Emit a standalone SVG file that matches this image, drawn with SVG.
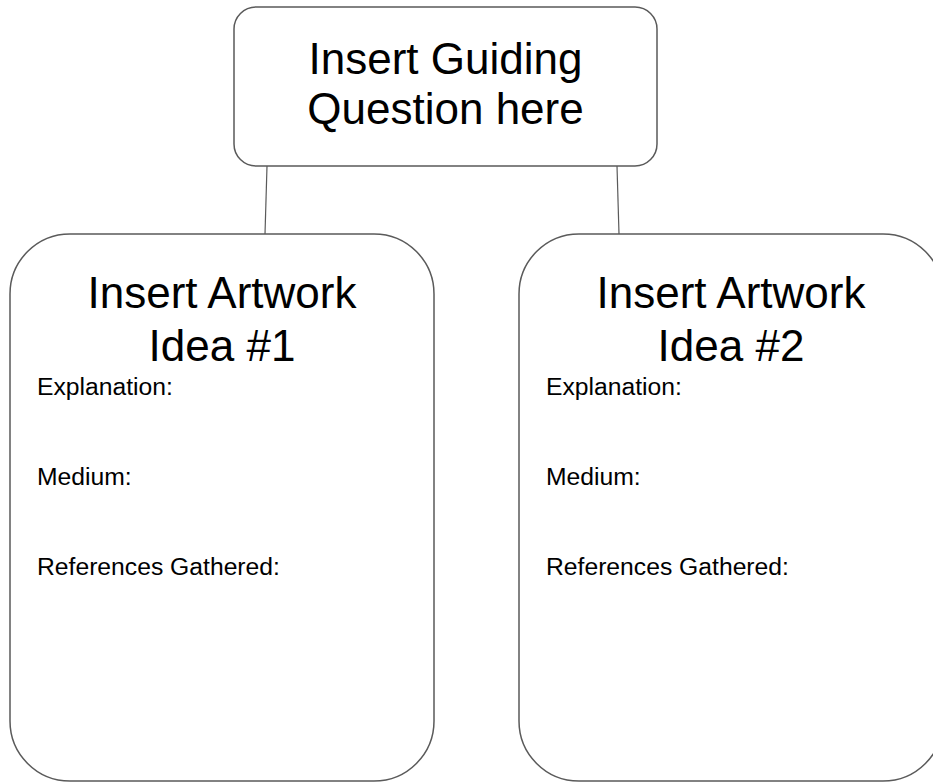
<svg xmlns="http://www.w3.org/2000/svg" width="933" height="784" viewBox="0 0 933 784">
<style>
.box{fill:#fff;stroke:#5a5a5a;stroke-width:1.5}
.conn{stroke:#5a5a5a;stroke-width:1.2;fill:none}
.t{font-family:"Liberation Sans",Arial,sans-serif;fill:#000}
.big{font-size:44px;text-anchor:middle}
.small{font-size:24.7px}
</style>
<rect width="933" height="784" fill="#fff"/>
<g id="connectors">
<line class="conn" x1="267" y1="166" x2="265" y2="234"/>
<line class="conn" x1="617" y1="166" x2="619" y2="234"/>
</g>
<g id="question">
<rect class="box" x="234" y="7" width="423" height="159" rx="22" ry="22"/>
<text class="t big" x="445.5" y="74">Insert Guiding</text>
<text class="t big" x="445.5" y="124">Question here</text>
</g>
<g id="idea1">
<rect class="box" x="10" y="234" width="424" height="547" rx="60" ry="60"/>
<text class="t big" x="222" y="308">Insert Artwork</text>
<text class="t big" x="222" y="361">Idea #1</text>
<text class="t small" x="37" y="395">Explanation:</text>
<text class="t small" x="37" y="485">Medium:</text>
<text class="t small" x="37" y="575">References Gathered:</text>
</g>
<g id="idea2">
<rect class="box" x="519" y="234" width="424" height="547" rx="60" ry="60"/>
<text class="t big" x="731" y="308">Insert Artwork</text>
<text class="t big" x="731" y="361">Idea #2</text>
<text class="t small" x="546" y="395">Explanation:</text>
<text class="t small" x="546" y="485">Medium:</text>
<text class="t small" x="546" y="575">References Gathered:</text>
</g>
</svg>
